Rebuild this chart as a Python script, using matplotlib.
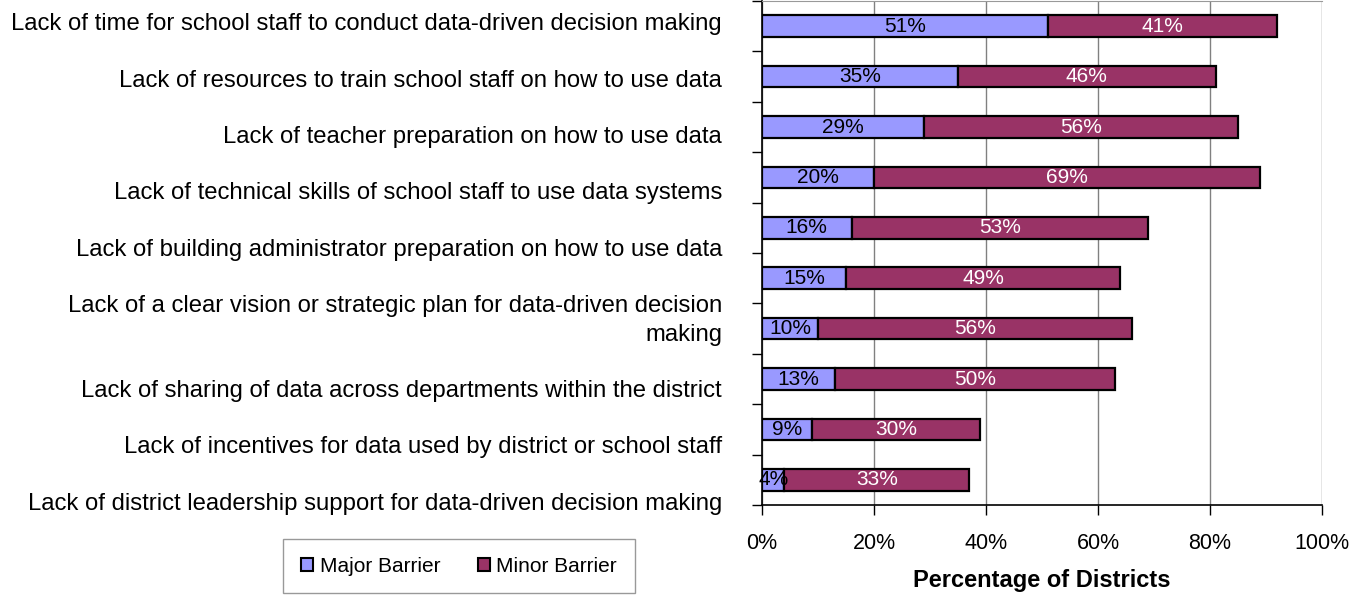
import numpy as np
import matplotlib
matplotlib.use("Agg")
import matplotlib.pyplot as plt
from matplotlib.patches import Patch

plt.rcParams['font.family'] = ['Liberation Sans', 'DejaVu Sans']

# labels as shown on the left (top to bottom)
labels = [
    "Lack of time for school staff to conduct data-driven decision making",
    "Lack of resources to train school staff on how to use data",
    "Lack of teacher preparation on how to use data",
    "Lack of technical skills of school staff to use data systems",
    "Lack of building administrator preparation on how to use data",
    "Lack of a clear vision or strategic plan for data-driven decision\nmaking",
    "Lack of sharing of data across departments within the district",
    "Lack of incentives for data used by district or school staff",
    "Lack of district leadership support for data-driven decision making",
]

# bar values (top to bottom), percent of districts
major = [51, 35, 29, 20, 16, 15, 10, 13, 9, 4]
minor = [41, 46, 56, 69, 53, 49, 56, 50, 30, 33]
series_names = ["Major Barrier", "Minor Barrier"]
xticks = [0, 20, 40, 60, 80, 100]

major_color = "#9999FF"
minor_color = "#993366"

fig = plt.figure(figsize=(13.58, 5.96), dpi=100)
ax = fig.add_axes([762 / 1358, 1 - 505 / 596, 560 / 1358, 504 / 596])

y = np.arange(len(major))
major = np.array(major)
minor = np.array(minor)
h = 0.43

ax.barh(y, major, height=h, color=major_color, edgecolor="black", linewidth=1.6, zorder=3)
ax.barh(y, minor, left=major, height=h, color=minor_color, edgecolor="black", linewidth=1.6, zorder=3)

for yi, a, b in zip(y, major, minor):
    ax.text(a / 2, yi, f"{a}%", ha="center", va="center", fontsize=15, color="black", zorder=4)
    ax.text(a + b / 2, yi, f"{b}%", ha="center", va="center", fontsize=15, color="white", zorder=4)

ax.set_xlim(0, 100)
ax.set_ylim(len(major) - 0.5, -0.5)
ax.set_xticks(xticks)
ax.set_xticklabels([f"{t}%" for t in xticks], fontsize=15.5)
ax.set_yticks(np.arange(len(major) + 1) - 0.5)
ax.set_yticklabels([])
ax.tick_params(axis="x", direction="out", length=7, width=1, pad=13)
ax.tick_params(axis="y", direction="out", length=7, width=1)
ax.grid(axis="x", color="#808080", linewidth=1, zorder=0)
ax.spines["top"].set_color("#999999")
ax.spines["right"].set_visible(False)
ax.spines["left"].set_linewidth(1.2)
ax.spines["bottom"].set_linewidth(1.2)
ax.set_xlabel("Percentage of Districts", fontsize=17, fontweight="bold", labelpad=11)

fig.text(722 / 1358, 1 - 264 / 596, "\n\n".join(labels), ha="right", va="center",
         multialignment="right", fontsize=17.2, linespacing=1.365)

handles = [Patch(facecolor=major_color, edgecolor="black", linewidth=1.5),
           Patch(facecolor=minor_color, edgecolor="black", linewidth=1.5)]
leg = fig.legend(handles, series_names, loc="center", ncol=2,
                 bbox_to_anchor=(459 / 1358, 1 - 566 / 596), fontsize=15,
                 frameon=True, fancybox=False, edgecolor="#808080",
                 handlelength=0.6, handleheight=0.6, handletextpad=0.3,
                 columnspacing=1.8, borderpad=0.85)
leg.get_frame().set_linewidth(1)

fig.savefig("out.png", dpi=100)
